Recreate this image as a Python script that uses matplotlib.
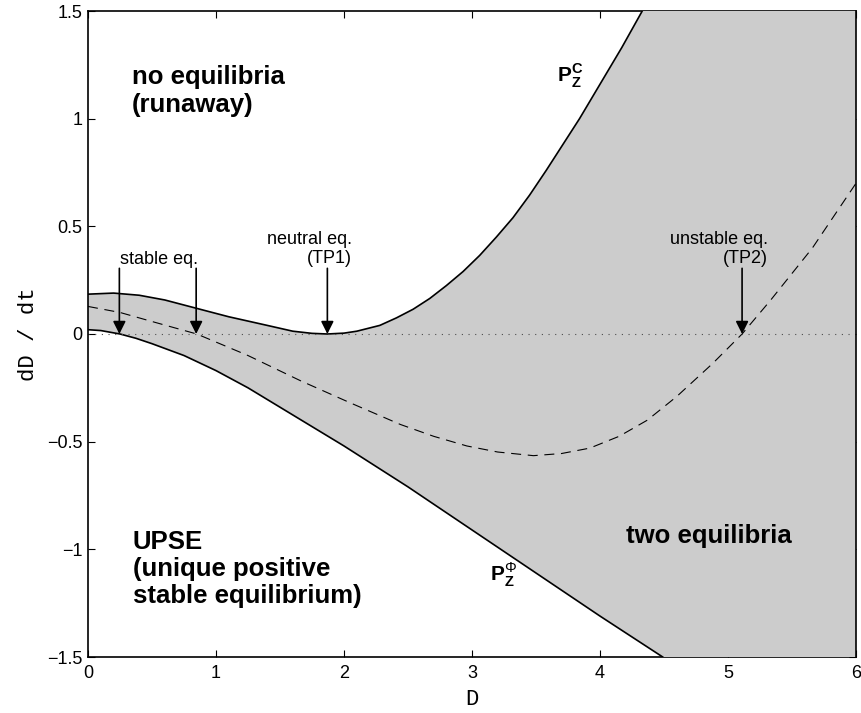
import numpy as np
import matplotlib
matplotlib.use("Agg")
import matplotlib.pyplot as plt

# values
d_c = [0, 0.2, 0.4, 0.6, 0.875, 1.1, 1.25, 1.4, 1.6, 1.75, 1.87, 2.0, 2.1, 2.28, 2.41, 2.54,
       2.67, 2.8, 2.93, 3.06, 3.19, 3.32, 3.45, 3.58, 3.71, 3.84, 4.0, 4.17, 4.33]
p_c = [0.185, 0.19, 0.18, 0.158, 0.115, 0.08, 0.06, 0.04, 0.013, 0.003, 0.0, 0.004, 0.013,
       0.04, 0.075, 0.115, 0.165, 0.225, 0.29, 0.365, 0.45, 0.54, 0.645, 0.76, 0.88, 1.0,
       1.16, 1.33, 1.5]

d_phi = [0, 0.1, 0.25, 0.375, 0.5, 0.75, 1.0, 1.25, 1.5, 1.75, 2.0, 2.5, 3.0, 3.5, 4.0, 4.49]
p_phi = [0.02, 0.016, 0.0, -0.02, -0.045, -0.1, -0.17, -0.25, -0.34, -0.43, -0.52, -0.71,
         -0.91, -1.11, -1.31, -1.5]

d_dash = [0, 0.25, 0.5, 0.85, 1.25, 1.66, 2.05, 2.44, 2.7, 2.96, 3.2, 3.48, 3.7, 3.92,
          4.15, 4.37, 4.6, 4.88, 5.11, 5.33, 5.66, 6.0]
p_dash = [0.128, 0.1, 0.058, 0.0, -0.1, -0.217, -0.32, -0.42, -0.475, -0.52, -0.548, -0.565,
          -0.555, -0.53, -0.475, -0.40, -0.29, -0.137, 0.0, 0.155, 0.40, 0.70]

xticks = [0, 1, 2, 3, 4, 5, 6]
yticks = [-1.5, -1, -0.5, 0, 0.5, 1, 1.5]
ytick_labels = ['\u22121.5', '\u22121', '\u22120.5', '0', '0.5', '1', '1.5']

plt.rcParams['font.family'] = ['Liberation Sans', 'DejaVu Sans']
plt.rcParams['mathtext.fontset'] = 'custom'
plt.rcParams['mathtext.rm'] = 'Liberation Sans'
plt.rcParams['mathtext.bf'] = 'Liberation Sans:bold'

fig = plt.figure(figsize=(8.62, 7.13), dpi=100)
ax = fig.add_axes([88/862, 56/713, 768/862, 646/713])

# grey region between the two curves
poly_x = d_c + [6, 6] + d_phi[::-1]
poly_y = p_c + [1.5, -1.5] + p_phi[::-1]
ax.fill(poly_x, poly_y, color='#cccccc', lw=0, zorder=2)

ax.plot(d_c, p_c, 'k-', lw=1.2, zorder=3)
ax.plot(d_phi, p_phi, 'k-', lw=1.2, zorder=3)
ax.plot(d_dash, p_dash, color='k', lw=0.8, ls=(0, (9, 6)), zorder=3)
ax.plot([0, 6], [0, 0], color='0.3', lw=0.8, ls=(0, (1, 5)), zorder=3)

ax.set_xlim(0, 6)
ax.set_ylim(-1.5, 1.5)
ax.set_xticks(xticks)
ax.set_yticks(yticks)
ax.set_yticklabels(ytick_labels)
ax.tick_params(direction='in', length=5, width=0.8, labelsize=13, top=True, right=True)
ax.tick_params(axis='x', pad=6)
ax.tick_params(axis='y', pad=4)
ax.set_axisbelow(True)
for s in ['top', 'bottom']:
    ax.spines[s].set_zorder(1.8)
for s in ['left', 'right']:
    ax.spines[s].set_zorder(4)
for s in ax.spines.values():
    s.set_linewidth(1.2)

ax.set_xlabel('D', family='Liberation Mono', fontsize=16)
ax.set_ylabel('dD / dt', family='Liberation Mono', fontsize=16)
ax.xaxis.set_label_coords(0.5, -0.05)
ax.yaxis.set_label_coords(-0.064, 0.5)

# arrows
arr = dict(arrowstyle='-|>', color='k', lw=1.2, mutation_scale=19, shrinkA=0, shrinkB=0)
for xa in [0.245, 0.845, 1.87, 5.11]:
    ax.annotate('', xy=(xa, 0.0), xytext=(xa, 0.305), arrowprops=arr, zorder=5)

ax.text(0.25, 0.346, 'stable eq.', fontsize=13, ha='left', va='center')
ax.text(2.06, 0.395, 'neutral eq.\n(TP1)', fontsize=13, ha='right', va='center',
        multialignment='right', linespacing=1.1)
ax.text(5.31, 0.395, 'unstable eq.\n(TP2)', fontsize=13, ha='right', va='center',
        multialignment='right', linespacing=1.1)

ax.text(0.34, 1.128, 'no equilibria\n(runaway)', fontsize=18.5, fontweight='bold',
        ha='left', va='center', linespacing=1.2)
ax.text(0.35, -1.09, 'UPSE\n(unique positive\nstable equilibrium)', fontsize=18.5,
        fontweight='bold', ha='left', va='center', linespacing=1.15)
ax.text(4.85, -0.94, 'two equilibria', fontsize=18.5, fontweight='bold',
        ha='center', va='center')

ax.text(3.77, 1.2, r'$\mathbf{P}_{\mathbf{Z}}^{\mathbf{C}}$', fontsize=15, ha='center', va='center')
ax.text(3.25, -1.12, r'$\mathbf{P}_{\mathbf{Z}}^{\Phi}$', fontsize=15, ha='center', va='center')

fig.savefig('out.png', dpi=100)
